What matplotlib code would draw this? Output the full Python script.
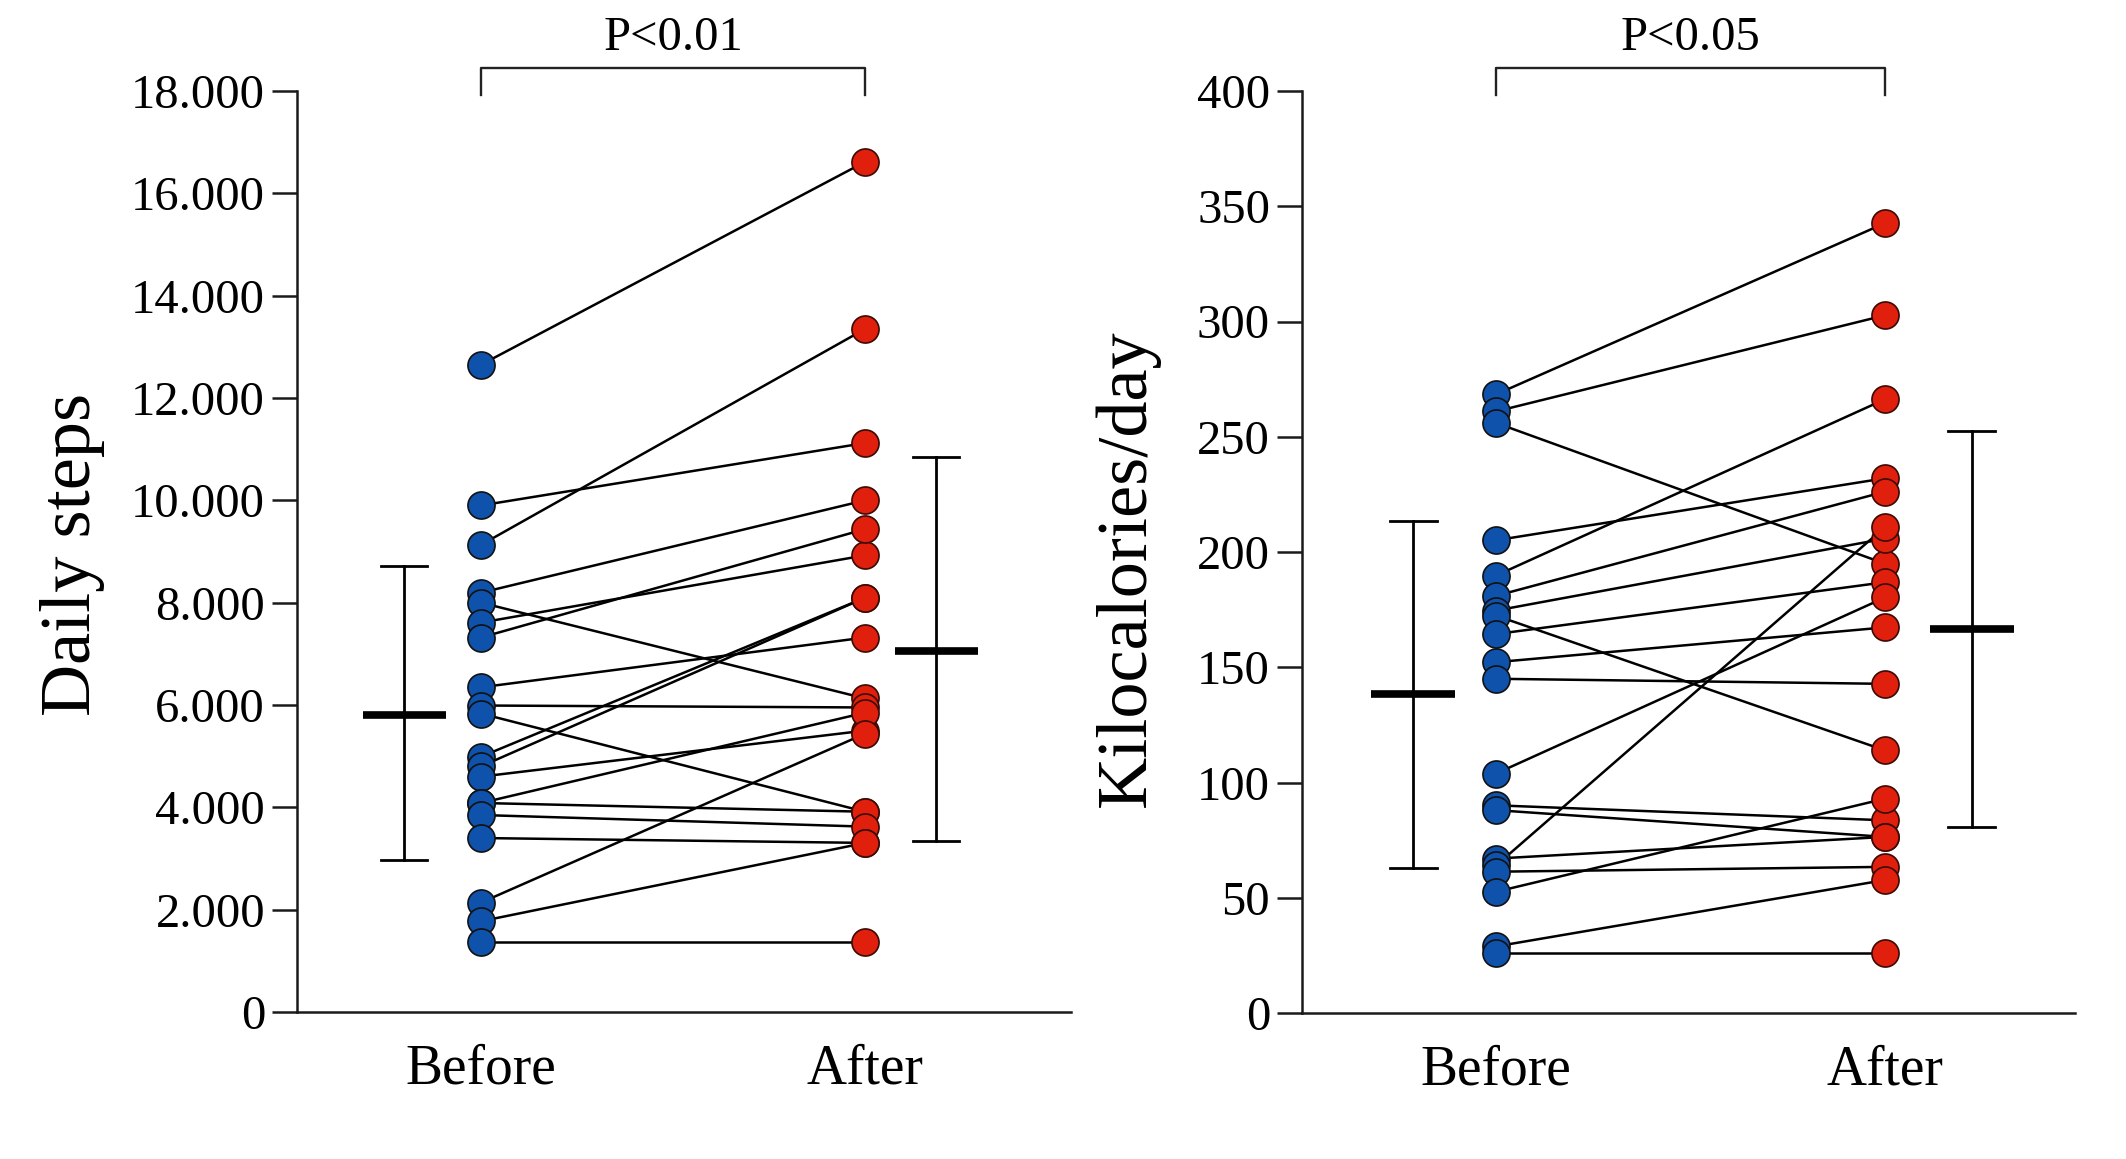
import matplotlib
matplotlib.use("Agg")
import matplotlib.pyplot as plt

plt.rcParams['font.family'] = ['Liberation Serif', 'DejaVu Serif']

# ---------------- data ----------------
groups = ["Before", "After"]

steps_before = [12650, 9900, 9130, 8195, 8000, 7611, 7319, 6346, 5990, 5833,
                4990, 4800, 4600, 4085, 4085, 3850, 3400, 2138, 1774, 1360]
steps_after = [16616, 11120, 13350, 10000, 6128, 8925, 9438, 7319, 5952, 3914,
               8097, 8097, 5500, 5850, 3914, 3623, 3305, 5440, 3305, 1360]
steps_mean = [5810, 7050]
steps_low = [2980, 3350]
steps_high = [8710, 10850]
steps_ticks = [0, 2000, 4000, 6000, 8000, 10000, 12000, 14000, 16000, 18000]
steps_ticklabels = ["0", "2.000", "4.000", "6.000", "8.000", "10.000",
                    "12.000", "14.000", "16.000", "18.000"]

kcal_before = [268.4, 261.0, 256.0, 205.1, 189.8, 181.0, 174.6, 172.4, 164.4, 152.2,
               145.0, 103.9, 90.1, 88.0, 67.0, 64.0, 61.3, 52.6, 28.9, 26.0]
kcal_after = [342.7, 302.7, 194.9, 232.0, 266.3, 226.2, 205.8, 113.9, 186.9, 167.3,
              142.8, 180.3, 83.6, 76.4, 76.4, 210.9, 63.4, 93.0, 57.7, 26.0]
kcal_mean = [138.2, 166.5]
kcal_low = [62.8, 80.5]
kcal_high = [213.5, 252.4]
kcal_ticks = [0, 50, 100, 150, 200, 250, 300, 350, 400]
kcal_ticklabels = [str(t) for t in kcal_ticks]

pvalues = ["P<0.01", "P<0.05"]
ylabels = ["Daily steps", "Kilocalories/day"]

BLUE = "#0f52ab"
RED = "#e0200c"

W, H = 2126, 1159
fig = plt.figure(figsize=(W / 100, H / 100), dpi=100)

ax1 = fig.add_axes([297 / W, 1 - 1012 / H, (1071 - 297) / W, (1012 - 91) / H])
ax2 = fig.add_axes([1302 / W, 1 - 1013 / H, (2075 - 1302) / W, (1013 - 91) / H])


def panel(ax, before, after, mean, low, high, ticks, ticklabels, ylim,
          xlim, xbars, ptext, ylabel, ylabel_xy):
    xb, xa = 1, 2
    for b, a in zip(before, after):
        ax.plot([xb, xa], [b, a], color="black", lw=1.8, zorder=2,
                solid_capstyle="butt")
    ax.scatter([xb] * len(before), before, s=19.5 ** 2, color=BLUE,
               edgecolor="#111111", linewidth=1.2, zorder=3, clip_on=False)
    ax.scatter([xa] * len(after), after, s=19.5 ** 2, color=RED,
               edgecolor="#3a0a05", linewidth=1.2, zorder=3, clip_on=False)
    # mean and SD bars
    for xc, m, lo, hi in zip(xbars, mean, low, high):
        ax.plot([xc, xc], [lo, hi], color="black", lw=2.0, zorder=2)
        ax.plot([xc - 0.06, xc + 0.06], [lo, lo], color="black", lw=2.0)
        ax.plot([xc - 0.06, xc + 0.06], [hi, hi], color="black", lw=2.0)
        ax.plot([xc - 0.108, xc + 0.108], [m, m], color="black", lw=5.5,
                solid_capstyle="butt")
    ax.set_xlim(*xlim)
    ax.set_ylim(*ylim)
    ax.set_yticks(ticks)
    ax.set_yticklabels(ticklabels)
    ax.set_xticks([xb, xa])
    ax.set_xticklabels(groups)
    ax.get_xticklabels()[0].set_x(xb - 0.02)
    for s in ["top", "right"]:
        ax.spines[s].set_visible(False)
    for s in ["left", "bottom"]:
        ax.spines[s].set_linewidth(1.8)
        ax.spines[s].set_color("#1a1a1a")
    ax.tick_params(axis="y", direction="out", length=18, width=1.8,
                   labelsize=35, pad=5, color="#1a1a1a")
    ax.tick_params(axis="x", length=0, labelsize=40, pad=23)
    # significance bracket
    trans = ax.get_xaxis_transform()
    ax.plot([xb, xb, xa, xa], [0.996, 1.025, 1.025, 0.996],
            color="#222222", lw=1.7, transform=trans, clip_on=False)
    ax.text((xb + xa) / 2, 1.058, ptext, transform=trans, ha="center",
            va="center", fontsize=35)
    ax.set_ylabel(ylabel, fontsize=52)
    ax.yaxis.set_label_coords(ylabel_xy[0], ylabel_xy[1], transform=fig.transFigure)


panel(ax1, steps_before, steps_after, steps_mean, steps_low, steps_high,
      steps_ticks, steps_ticklabels, (0, 18000), (0.521, 2.536), (0.80, 2.185),
      pvalues[0], ylabels[0], (105 / W, 1 - 554 / H))
panel(ax2, kcal_before, kcal_after, kcal_mean, kcal_low, kcal_high,
      kcal_ticks, kcal_ticklabels, (0, 400), (0.501, 2.488), (0.787, 2.222),
      pvalues[1], ylabels[1], (1160 / W, 1 - 568 / H))

fig.savefig("out.png", dpi=100, facecolor="white")
